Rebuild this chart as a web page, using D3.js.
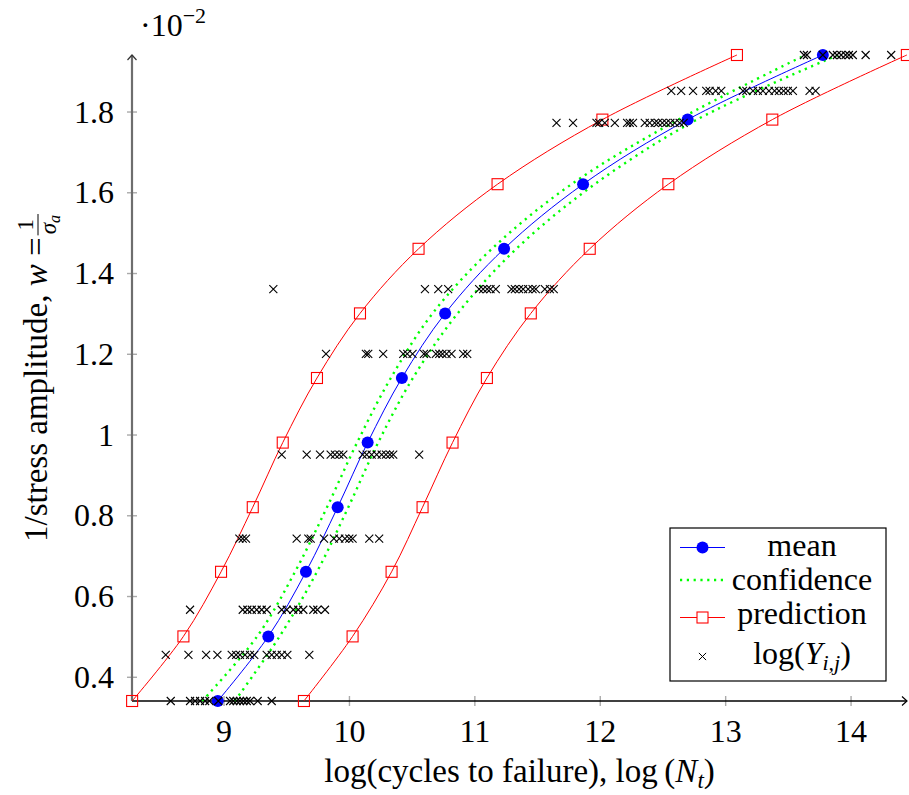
<!DOCTYPE html>
<html>
<head>
<meta charset="utf-8">
<script src="https://cdn.jsdelivr.net/npm/d3@7"></script>
<style>
  body { margin: 0; background: #fff; }
  svg text { font-family: "Liberation Serif", "Times New Roman", serif; fill: #000; }
</style>
</head>
<body>
<script>
// y levels (1/stress amplitude) of the fitted curves
const levels = [0.0034, 0.0050, 0.0066, 0.0082, 0.0098, 0.0114, 0.0130, 0.0146, 0.0162, 0.0178, 0.0194];
// log(cycles) of the fitted curves at those levels
const meanN     = [8.954, 9.357, 9.657, 9.910, 10.149, 10.422, 10.767, 11.237, 11.867, 12.701, 13.779];
const confLowN  = [8.830, 9.268, 9.570, 9.825, 10.065, 10.334, 10.667, 11.140, 11.775, 12.628, 13.640];
const confHighN = [9.090, 9.447, 9.745, 9.995, 10.233, 10.510, 10.867, 11.335, 11.960, 12.775, 13.900];
const predLowN  = [8.271, 8.680, 8.980, 9.233, 9.472, 9.745, 10.088, 10.555, 11.185, 12.021, 13.094];
const predHighN = [9.641, 10.029, 10.340, 10.587, 10.826, 11.100, 11.450, 11.920, 12.547, 13.376, 14.449];

// observed log(Y_ij), one list per stress level
const obsLevels = [0.0034, 0.00454, 0.00566, 0.00742, 0.0095, 0.0120, 0.0136, 0.01772, 0.01851, 0.0194];
const obs0034 = [8.579, 8.733, 8.773, 8.813, 8.853, 8.887, 8.958, 9.052, 9.078, 9.105, 9.131, 9.158, 9.185, 9.211, 9.272, 9.384];
const obs0045 = [8.539, 8.720, 8.861, 8.951, 9.065, 9.100, 9.131, 9.171, 9.211, 9.245, 9.344, 9.384, 9.424, 9.464, 9.509, 9.684];
const obs0057 = [8.733, 9.153, 9.190, 9.225, 9.264, 9.304, 9.344, 9.464, 9.504, 9.556, 9.596, 9.636, 9.716, 9.748, 9.809];
const obs0074 = [9.126, 9.153, 9.179, 9.583, 9.676, 9.695, 9.801, 9.880, 9.923, 9.968, 10.003, 10.029, 10.162, 10.241];
const obs0095 = [9.464, 9.663, 9.769, 9.854, 9.888, 9.923, 9.955, 10.109, 10.141, 10.181, 10.221, 10.261, 10.295, 10.327, 10.353, 10.560];
const obs0120 = [9.817, 10.135, 10.154, 10.273, 10.433, 10.465, 10.507, 10.598, 10.619, 10.693, 10.720, 10.746, 10.778, 10.818, 10.911, 10.943];
const obs0136 = [9.397, 10.606, 10.712, 10.791, 11.038, 11.070, 11.102, 11.129, 11.171, 11.296, 11.323, 11.357, 11.389, 11.429, 11.464, 11.490, 11.562, 11.602, 11.633];
const obs0177 = [11.655, 11.787, 11.974, 11.995, 12.040, 12.120, 12.218, 12.239, 12.265, 12.359, 12.398, 12.438, 12.465, 12.499, 12.531, 12.563, 12.598, 12.637, 12.669];
const obs0185 = [12.570, 12.649, 12.744, 12.849, 12.876, 12.924, 12.969, 13.142, 13.169, 13.222, 13.261, 13.301, 13.349, 13.394, 13.429, 13.466, 13.500, 13.540, 13.673, 13.721];
const obs0194 = [13.628, 13.652, 13.779, 13.859, 13.891, 13.925, 13.960, 13.987, 14.018, 14.120, 14.324];

const xTicks = [9, 10, 11, 12, 13, 14];
const yTicks = [0.004, 0.006, 0.008, 0.010, 0.012, 0.014, 0.016, 0.018];
const legendNames = ["mean", "confidence", "prediction", "log"];

const W = 909, H = 795;
const svg = d3.select("body").append("svg")
    .attr("width", W)
    .attr("height", H);

const x = d3.scaleLinear().domain([8.27, 14.45]).range([132, 907]);
const y = d3.scaleLinear().domain([0.0034, 0.0194]).range([701, 55]);

const line = d3.line()
    .x(d => x(d[0]))
    .y(d => y(d[1]))
    .curve(d3.curveCatmullRom.alpha(0.5));

const pts = arr => arr.map((v, i) => [v, levels[i]]);

// ----- axes -----
const xAxis = svg.append("g")
    .attr("transform", "translate(0," + y.range()[0] + ")")
    .call(d3.axisBottom(x).tickValues(xTicks).tickFormat(d3.format("d")).tickSize(5));
xAxis.select(".domain").remove();
xAxis.selectAll(".tick line").attr("y1", -5).attr("y2", 5)
    .attr("stroke", "#aaa").attr("stroke-width", 1.4);
xAxis.selectAll(".tick text").attr("y", 41).attr("dy", 0)
    .attr("font-size", 32).attr("font-family", null);

const yAxis = svg.append("g")
    .attr("transform", "translate(" + x.range()[0] + ",0)")
    .call(d3.axisLeft(y).tickValues(yTicks).tickFormat(d => d3.format("~g")(+(d * 100).toFixed(4))).tickSize(5));
yAxis.select(".domain").remove();
yAxis.selectAll(".tick line").attr("x1", -5).attr("x2", 5)
    .attr("stroke", "#aaa").attr("stroke-width", 1.4);
yAxis.selectAll(".tick text").attr("x", -18).attr("dy", "0.33em")
    .attr("font-size", 32).attr("font-family", null);

// axis lines with arrows
svg.append("line")
    .attr("x1", x.range()[0]).attr("x2", x.range()[0])
    .attr("y1", y.range()[0]).attr("y2", y.range()[1])
    .attr("stroke", "#6e6e6e").attr("stroke-width", 2.2);
svg.append("path")
    .attr("d", "M" + (x.range()[0] - 4.5) + "," + (y.range()[1] + 5) + " L" + x.range()[0] + "," + (y.range()[1]) + " L" + (x.range()[0] + 4.5) + "," + (y.range()[1] + 5))
    .attr("fill", "none").attr("stroke", "#333").attr("stroke-width", 1.2);
svg.append("line")
    .attr("x1", x.range()[0]).attr("x2", x.range()[1])
    .attr("y1", y.range()[0]).attr("y2", y.range()[0])
    .attr("stroke", "#000").attr("stroke-width", 1.3);
svg.append("path")
    .attr("d", "M" + (x.range()[1] - 5) + "," + (y.range()[0] - 4.5) + " L" + x.range()[1] + "," + y.range()[0] + " L" + (x.range()[1] - 5) + "," + (y.range()[0] + 4.5))
    .attr("fill", "none").attr("stroke", "#000").attr("stroke-width", 1.2);

// ----- curves -----
svg.append("path").attr("d", line(pts(meanN)))
    .attr("fill", "none").attr("stroke", "#0000ff").attr("stroke-width", 1);
[confLowN, confHighN].forEach(c => {
    svg.append("path").attr("d", line(pts(c)))
        .attr("fill", "none").attr("stroke", "#00ff00").attr("stroke-width", 2.4)
        .attr("stroke-dasharray", "2.2,4.6");
});
[predLowN, predHighN].forEach(c => {
    svg.append("path").attr("d", line(pts(c)))
        .attr("fill", "none").attr("stroke", "#ff0000").attr("stroke-width", 1);
});

// markers
svg.selectAll(".meanPt").data(pts(meanN)).enter().append("circle")
    .attr("class", "meanPt")
    .attr("cx", d => x(d[0])).attr("cy", d => y(d[1])).attr("r", 6)
    .attr("fill", "#0000ff");
svg.selectAll(".predPt").data(pts(predLowN).concat(pts(predHighN))).enter().append("rect")
    .attr("class", "predPt")
    .attr("x", d => x(d[0]) - 5.5).attr("y", d => y(d[1]) - 5.5)
    .attr("width", 11).attr("height", 11)
    .attr("fill", "none").attr("stroke", "#ff0000").attr("stroke-width", 1.1);

// observed crosses
const obsRows = [obs0034, obs0045, obs0057, obs0074, obs0095, obs0120, obs0136, obs0177, obs0185, obs0194];
const obsPts = [];
obsRows.forEach((row, i) => row.forEach(v => obsPts.push([v, obsLevels[i]])));

function cross(cx, cy, s) {
    return "M" + (cx - s) + "," + (cy - s) + "L" + (cx + s) + "," + (cy + s) +
           "M" + (cx - s) + "," + (cy + s) + "L" + (cx + s) + "," + (cy - s);
}
svg.selectAll(".obs").data(obsPts).enter().append("path")
    .attr("class", "obs")
    .attr("d", d => cross(x(d[0]), y(d[1]), 4))
    .attr("stroke", "#000").attr("stroke-width", 1.1);

// ----- texts -----
const sc = svg.append("text").attr("x", 140).attr("y", 36).attr("font-size", 32);
sc.append("tspan").text("\u00b710");
sc.append("tspan").attr("font-size", 22).attr("dy", -13).text("\u22122");

const xl = svg.append("text")
    .attr("x", (x.range()[0] + x.range()[1]) / 2).attr("y", 782)
    .attr("text-anchor", "middle").attr("font-size", 33);
xl.append("tspan").text("log(cycles to failure), log\u2009(");
xl.append("tspan").attr("font-style", "italic").text("N");
xl.append("tspan").attr("font-style", "italic").attr("font-size", 23).attr("dy", 6).text("t");
xl.append("tspan").attr("dy", -6).text(")");

// y label with the fraction
const yl = svg.append("g");
const ylMain = yl.append("text").attr("font-size", 33).attr("x", 0).attr("y", 0);
ylMain.append("tspan").text("1/stress amplitude, ");
ylMain.append("tspan").attr("font-style", "italic").text("w");
ylMain.append("tspan").text(" = ");
const mainLen = ylMain.node().getComputedTextLength();
const fx = mainLen + 2;
const num = yl.append("text").attr("font-size", 23).attr("x", fx + 10).attr("y", -14)
    .attr("text-anchor", "middle").text("1");
const den = yl.append("text").attr("font-size", 23).attr("x", fx + 1).attr("y", 9);
den.append("tspan").attr("font-style", "italic").text("\u03c3");
den.append("tspan").attr("font-style", "italic").attr("font-size", 16).attr("dy", 4).text("a");
const fw = den.node().getComputedTextLength() + 2;
num.attr("x", fx + fw / 2);
yl.append("line").attr("x1", fx).attr("x2", fx + fw).attr("y1", -9).attr("y2", -9)
    .attr("stroke", "#000").attr("stroke-width", 1);
const totalLen = fx + fw;
yl.attr("transform", "translate(47," + ((y.range()[0] + y.range()[1]) / 2 + totalLen / 2) + ") rotate(-90)");

// ----- legend -----
const lg = svg.append("g").attr("transform", "translate(670,528)");
lg.append("rect").attr("x", 0).attr("y", 0).attr("width", 216).attr("height", 153)
    .attr("fill", "#fff").attr("stroke", "#000").attr("stroke-width", 1.2);
const rowY = [19.5, 52, 89.5, 128.5];
const sx0 = 10, sx1 = 55, smid = 32.5, tx = 132;

lg.append("line").attr("x1", sx0).attr("x2", sx1).attr("y1", rowY[0]).attr("y2", rowY[0])
    .attr("stroke", "#0000ff").attr("stroke-width", 1);
lg.append("circle").attr("cx", smid).attr("cy", rowY[0]).attr("r", 6).attr("fill", "#0000ff");

lg.append("line").attr("x1", sx0).attr("x2", sx1).attr("y1", rowY[1]).attr("y2", rowY[1])
    .attr("stroke", "#00ff00").attr("stroke-width", 2.4).attr("stroke-dasharray", "2.2,4.6");

lg.append("line").attr("x1", sx0).attr("x2", sx1).attr("y1", rowY[2]).attr("y2", rowY[2])
    .attr("stroke", "#ff0000").attr("stroke-width", 1);
lg.append("rect").attr("x", smid - 5.5).attr("y", rowY[2] - 5.5).attr("width", 11).attr("height", 11)
    .attr("fill", "#fff").attr("stroke", "#ff0000").attr("stroke-width", 1.1);

lg.append("path").attr("d", cross(smid, rowY[3], 3.6)).attr("stroke", "#000").attr("stroke-width", 1);

legendNames.slice(0, 3).forEach((t, i) => {
    lg.append("text").attr("x", tx).attr("y", rowY[i] + 6 + (i === 1 ? 4 : 0) + (i === 0 ? 2 : 0))
        .attr("text-anchor", "middle").attr("font-size", 32).text(t);
});
const lt = lg.append("text").attr("x", tx).attr("y", rowY[3] + 7)
    .attr("text-anchor", "middle").attr("font-size", 32);
lt.append("tspan").text(legendNames[3] + "(");
lt.append("tspan").attr("font-style", "italic").text("Y");
lt.append("tspan").attr("font-style", "italic").attr("font-size", 22).attr("dy", 6).text("i,j");
lt.append("tspan").attr("dy", -6).text(")");
</script>
</body>
</html>
